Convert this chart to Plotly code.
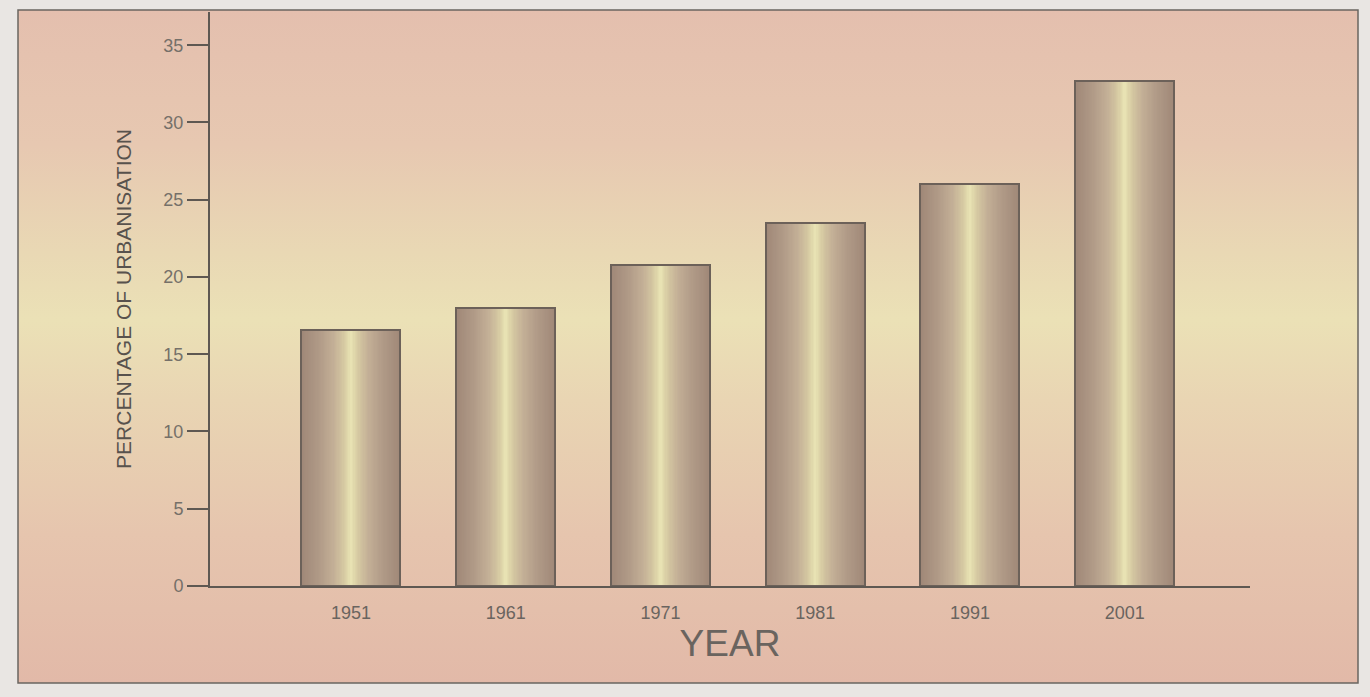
import base64
import plotly.graph_objects as go

# Urbanisation by census year
years = ["1951", "1961", "1971", "1981", "1991", "2001"]
urban_pct = [16.6, 18.0, 20.8, 23.5, 26.0, 32.7]
y_ticks = [0, 5, 10, 15, 20, 25, 30, 35]

W, H = 1370, 697
ML, MR, MT, MB = 210, 120, 12, 111
PW, PH = W - ML - MR, H - MT - MB

BAR_W = 0.64
TEXT = "#6a645f"
AXIS = "#5e5852"


def px_x(px):
    return (px - ML) / PW


def px_y(py):
    return 1 - (py - MT) / PH


def hex_rgb(h):
    h = h.lstrip("#")
    return tuple(int(h[i:i + 2], 16) for i in (0, 2, 4))


def blend(stops, t):
    for (t0, c0), (t1, c1) in zip(stops, stops[1:]):
        if t0 <= t <= t1:
            f = 0 if t1 == t0 else (t - t0) / (t1 - t0)
            a, b = hex_rgb(c0), hex_rgb(c1)
            return "rgb(%d,%d,%d)" % tuple(round(a[i] + (b[i] - a[i]) * f) for i in range(3))
    return stops[-1][1]


# metallic shading across a bar: 0 = edge, 1 = centre highlight
bar_shade = [
    (0.0, "#a08878"),
    (0.35, "#b09a87"),
    (0.65, "#c3af96"),
    (0.85, "#d4c7a1"),
    (0.95, "#e0d8ab"),
    (1.0, "#e8e2b3"),
]

fig = go.Figure()

layers = 40
for k in range(layers):
    frac = 1 - k / layers
    fig.add_trace(go.Bar(
        x=years, y=urban_pct, width=BAR_W * frac,
        marker=dict(color=blend(bar_shade, k / (layers - 1)), line=dict(width=0)),
        hoverinfo="skip", showlegend=False,
    ))

# outline on top of the shaded layers
fig.add_trace(go.Bar(
    x=years, y=urban_pct, width=BAR_W,
    marker=dict(color="rgba(0,0,0,0)", line=dict(color="#6c6159", width=2)),
    hoverinfo="skip", showlegend=False,
))

# page background: peach with a pale yellow band across the middle
svg = (
    '<svg xmlns="http://www.w3.org/2000/svg" width="100" height="100" preserveAspectRatio="none">'
    '<defs><linearGradient id="g" x1="0" y1="0" x2="0" y2="1">'
    '<stop offset="0" stop-color="#e4bfae"/>'
    '<stop offset="0.20" stop-color="#e7c8b1"/>'
    '<stop offset="0.36" stop-color="#e9d8b4"/>'
    '<stop offset="0.46" stop-color="#ebe1b6"/>'
    '<stop offset="0.58" stop-color="#e9d5b3"/>'
    '<stop offset="0.78" stop-color="#e6c5ae"/>'
    '<stop offset="1" stop-color="#e2b9a8"/>'
    '</linearGradient></defs>'
    '<rect width="100" height="100" fill="url(#g)"/></svg>'
)
src = "data:image/svg+xml;base64," + base64.b64encode(svg.encode()).decode()

fx0, fx1, fy0, fy1 = 18, 1358, 10, 683
fig.add_layout_image(dict(
    source=src, xref="paper", yref="paper",
    x=px_x(fx0), y=px_y(fy0), sizex=(fx1 - fx0) / PW, sizey=(fy1 - fy0) / PH,
    xanchor="left", yanchor="top", sizing="stretch", layer="below",
))
fig.add_shape(type="rect", xref="paper", yref="paper",
              x0=px_x(fx0), x1=px_x(fx1), y0=px_y(fy1), y1=px_y(fy0),
              line=dict(color="#6a6560", width=1.5), layer="below")

fig.update_layout(
    width=W, height=H,
    margin=dict(l=ML, r=MR, t=MT, b=MB, autoexpand=False),
    paper_bgcolor="#e9e6e3", plot_bgcolor="rgba(0,0,0,0)",
    barmode="overlay", bargap=0, showlegend=False,
    font=dict(family="Liberation Sans, Arial, sans-serif", color=TEXT),
    xaxis=dict(
        type="category", range=[-0.911, 5.81],
        showline=True, linecolor=AXIS, linewidth=2,
        showgrid=False, zeroline=False, ticks="",
        ticklabelstandoff=9,
        tickfont=dict(size=18, color=TEXT),
        title=dict(text="YEAR", font=dict(size=37, color=TEXT), standoff=2),
    ),
    yaxis=dict(
        range=[0, 37.15], tickvals=y_ticks,
        showline=True, linecolor=AXIS, linewidth=2,
        showgrid=False, zeroline=False,
        ticks="outside", ticklen=21, tickwidth=2, tickcolor=AXIS,
        tickfont=dict(size=18, color="#757069"),
        title=dict(text="PERCENTAGE OF URBANISATION",
                   font=dict(size=21, color="#58524d"), standoff=26),
    ),
)

fig.write_html("out.html")
